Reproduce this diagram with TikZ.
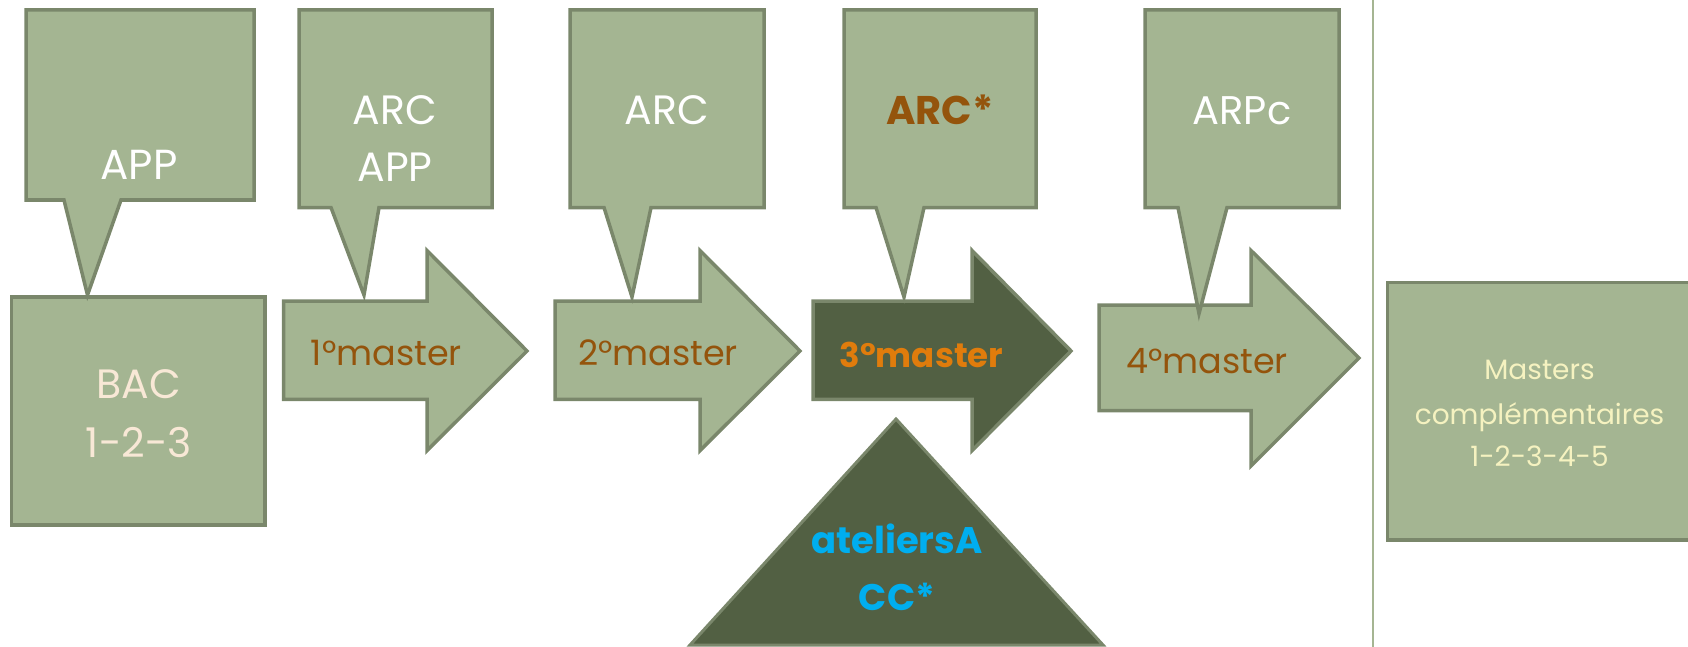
\documentclass[tikz,border=0pt]{standalone}
\usepackage{fontspec}
\setmainfont{Poppins}
\definecolor{fillG}{HTML}{A4B592}
\definecolor{strokeG}{HTML}{7A876B}
\definecolor{darkG}{HTML}{526043}
\definecolor{bacTxt}{HTML}{F8E8D6}
\definecolor{mastTxt}{HTML}{F5F2C0}
\definecolor{brownTxt}{HTML}{94540C}
\definecolor{orangeTxt}{HTML}{E07C0C}
\definecolor{cyanTxt}{HTML}{00AEEF}
\definecolor{vlineG}{HTML}{A5B592}
\newcommand\fsz[1]{\fontsize{#1}{#1}\selectfont}
\begin{document}
\begin{tikzpicture}[x=1pt,y=-1pt,
  shp/.style={fill=fillG,draw=strokeG,line width=3.5pt,line join=miter},
  darkshp/.style={fill=darkG,draw=strokeG,line width=3.5pt,line join=miter},
  txt/.style={inner sep=0pt,anchor=base},
  calltxt/.style={txt,text=white,font=\fsz{41}},
  mtxt/.style={txt,text=brownTxt,font=\fsz{35}}]
\path[use as bounding box] (0,0) rectangle (1688,647);
\clip (0,0) rectangle (1688,647);
% vertical separator
\draw[vlineG,line width=2pt] (1373,-5) -- (1373,652);
% BAC box
\draw[shp] (11.5,297) rectangle (265,525);
% arrows
\draw[shp] (283.5,301) -- (427,301) -- (427,250.5) -- (527,351) -- (427,450.6) -- (427,399.4) -- (283.5,399.4) -- cycle;
\draw[shp] (555,301) -- (700,301) -- (700,250.5) -- (800,351) -- (700,450.6) -- (700,399.4) -- (555,399.4) -- cycle;
\draw[darkshp] (813,301) -- (972,301) -- (972,250.5) -- (1071,351) -- (972,450.6) -- (972,399.4) -- (813,399.4) -- cycle;
\draw[shp] (1099,305) -- (1251,305) -- (1251,250.5) -- (1359,358) -- (1251,466) -- (1251,410.6) -- (1099,410.6) -- cycle;
% triangle
\draw[darkshp,line width=3pt] (896,419) -- (1103,645) -- (690,645) -- cycle;
% callouts
\draw[shp] (26,10) -- (254,10) -- (254,200) -- (121,200) -- (87.5,295) -- (64,200) -- (26,200) -- cycle;
\draw[shp] (299,10) -- (492,10) -- (492,207.5) -- (379,207.5) -- (364,295) -- (331,207.5) -- (299,207.5) -- cycle;
\draw[shp] (570,10) -- (764,10) -- (764,207.5) -- (651,207.5) -- (632,297) -- (604,207.5) -- (570,207.5) -- cycle;
\draw[shp] (844,10) -- (1036,10) -- (1036,207.5) -- (924,207.5) -- (904,297) -- (876,207.5) -- (844,207.5) -- cycle;
\draw[shp] (1145,10) -- (1339,10) -- (1339,207.5) -- (1227,207.5) -- (1199,313.6) -- (1178,207.5) -- (1145,207.5) -- cycle;
% masters box
\draw[shp] (1387.5,282.6) rectangle (1720,540);
% texts
\node[calltxt,font=\fsz{42}] (tapp) at (139,179.5) {APP};
\node[calltxt] (tarc1) at (395,125) {ARC};
\node[calltxt] (tapp1) at (395,181.5) {APP};
\node[calltxt] (tarc2) at (667,125) {ARC};
\node[calltxt,text=brownTxt,font=\fsz{40}\bfseries] (tarc3) at (940,125) {ARC*};
\node[calltxt,font=\fsz{40}] (tarpc) at (1242,125) {ARPc};
\node[txt,text=bacTxt,font=\fsz{41}] (tbac) at (139,398) {BAC};
\node[txt,text=bacTxt,font=\fsz{41}] (tbacn) at (139,457) {1-2-3};
\node[mtxt] (tm1) at (386.5,365) {1°master};
\node[mtxt] (tm2) at (658,365) {2°master};
\node[mtxt,text=orangeTxt,font=\fsz{34}\bfseries] (tm3) at (921.5,367) {3°master};
\node[mtxt] (tm4) at (1207,373) {4°master};
\node[txt,text=cyanTxt,font=\fsz{37}\bfseries] (tat) at (897,553) {ateliersA};
\node[txt,text=cyanTxt,font=\fsz{37}\bfseries] (tcc) at (897,610) {CC*};
\node[txt,text=mastTxt,font=\fsz{28}] (tma) at (1539.5,379) {Masters};
\node[txt,text=mastTxt,font=\fsz{28}] (tco) at (1539.5,424) {complémentaires};
\node[txt,text=mastTxt,font=\fsz{28}] (tnum) at (1539.5,466) {1-2-3-4-5};
\end{tikzpicture}
\end{document}
